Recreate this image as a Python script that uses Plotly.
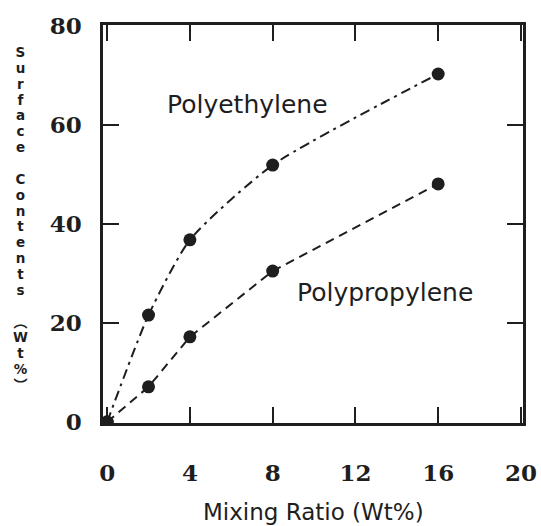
import plotly.graph_objects as go

# Data
mixing_ratio = [0, 2, 4, 8, 16]
polyethylene = [0, 21.6, 36.8, 51.9, 70.3]
polypropylene = [0, 7.1, 17.2, 30.5, 48.1]

x_ticks = [0, 4, 8, 12, 16, 20]
y_ticks = [0, 20, 40, 60, 80]

x_title = "Mixing Ratio (Wt%)"
y_title_chars = list("Surface") + [" "] + list("Contents") + [" "] + ["︵", "W", "t", "%", "︶"]

INK = "#1e1e1e"
SANS = "DejaVu Sans, Noto Sans CJK JP, sans-serif"
SERIF = "DejaVu Serif, Liberation Serif, serif"

fig = go.Figure()
fig.add_trace(go.Scatter(
    x=mixing_ratio, y=polyethylene, mode="lines+markers", name="Polyethylene",
    line=dict(color=INK, width=2, dash="10px,5px,3px,5px", shape="spline", smoothing=0.6),
    marker=dict(color=INK, size=13),
))
fig.add_trace(go.Scatter(
    x=mixing_ratio, y=polypropylene, mode="lines+markers", name="Polypropylene",
    line=dict(color=INK, width=2, dash="9px,6px"),
    marker=dict(color=INK, size=13),
))

axis_common = dict(
    showgrid=False, zeroline=False, showline=True, linecolor=INK, linewidth=2.5,
    mirror="ticks", ticks="inside", ticklen=16, tickwidth=2, tickcolor=INK,
    tickfont=dict(family=SERIF, size=23, color=INK, weight="bold"),
    automargin=False,
)

fig.update_xaxes(range=[-0.2, 20.1], tickvals=x_ticks, ticktext=[str(v) for v in x_ticks],
                 ticklabelstandoff=28, **axis_common)
fig.update_yaxes(range=[-0.2, 80.2], tickvals=y_ticks, ticktext=[str(v) for v in y_ticks],
                 ticklabelstandoff=14, **axis_common)

# vertical stacked y-axis title: upright characters, tight line pitch
stack = "<br>".join(
    ch if ch == " " else f"<span style='font-size:{14 if ch in '︵︶' else 13.5}px'>{ch}</span>"
    for ch in y_title_chars
)

annotations = [
    dict(x=6.77, y=64.1, xref="x", yref="y", text="Polyethylene", showarrow=False,
         font=dict(family=SANS, size=25, color=INK), xanchor="center", yanchor="middle"),
    dict(x=13.45, y=26.2, xref="x", yref="y", text="Polypropylene", showarrow=False,
         font=dict(family=SANS, size=25, color=INK), xanchor="center", yanchor="middle"),
    dict(x=0.5, y=0, xref="paper", yref="paper", text=x_title, showarrow=False,
         font=dict(family=SANS, size=23, color=INK), xanchor="center", yanchor="middle",
         yshift=-89),
    dict(x=0, y=1, xref="paper", yref="paper", text=stack,
         showarrow=False, align="center",
         font=dict(family=SANS, size=12.2, color=INK, weight="bold"),
         xanchor="center", yanchor="middle", xshift=-83, yshift=25 - 218),
]

fig.update_layout(
    width=541, height=526,
    margin=dict(l=103, r=18, t=25, b=103),
    paper_bgcolor="white", plot_bgcolor="white",
    showlegend=False,
    annotations=annotations,
)

fig.write_html("out.html", config={"displayModeBar": False},
               post_script="document.body.style.margin='0';document.body.style.overflow='hidden';")
